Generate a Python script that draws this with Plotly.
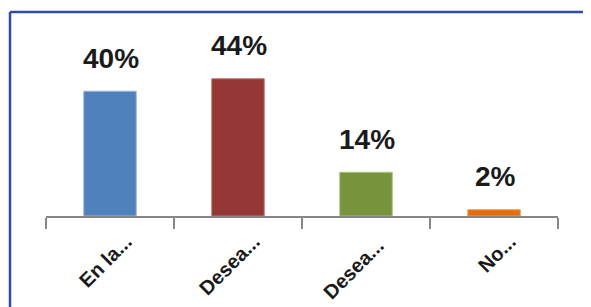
import plotly.graph_objects as go

categories = ["En la...", "Desea...", "Desea... ", "No..."]
values = [40, 44, 14, 2]
labels = ["40%", "44%", "14%", "2%"]
colors = ["#4F81BD", "#953735", "#77933C", "#E46C0A"]
edge_colors = ["#9DB7DC", "#C07674", "#A9C07F", "#F19A52"]

# the page body has an 8px margin: figure pixel = window pixel - OFF
OFF = 8
W, H = 591 - OFF, 307 - OFF
ml, mt = 46 - OFF, 60 - OFF
mr = W - (558 - OFF)
mb = H - (216 - OFF)
pw, ph = W - ml - mr, H - mt - mb

fig = go.Figure()
fig.add_trace(go.Bar(
    x=categories, y=values,
    marker=dict(color=colors, line=dict(color=edge_colors, width=1)),
    width=0.41, hoverinfo="skip",
))
for c, v, t in zip(categories, values, labels):
    fig.add_annotation(x=c, y=v, text=t, showarrow=False, yanchor="middle",
                       yshift=33, xshift=1,
                       font=dict(family="Arial", size=28, color="#1a1a1a", weight="bold"))

def px_x(X):
    return (X - OFF - ml) / pw

def px_y(Y):
    return (H - mb - (Y - OFF)) / ph

border = dict(color="#2E4D9E", width=2.5)
fig.add_shape(type="line", xref="paper", yref="paper",
              x0=px_x(10), x1=px_x(OFF + W), y0=px_y(12), y1=px_y(12), line=border)
fig.add_shape(type="line", xref="paper", yref="paper",
              x0=px_x(10), x1=px_x(10), y0=px_y(12), y1=px_y(OFF + H), line=border)

fig.update_layout(
    width=W, height=H,
    margin=dict(l=ml, r=mr, t=mt, b=mb, pad=0, autoexpand=False),
    paper_bgcolor="white", plot_bgcolor="white",
    showlegend=False,
    xaxis=dict(type="category", showline=True, linecolor="#868686", linewidth=2,
               ticks="outside", tickson="boundaries", ticklen=11, tickwidth=2,
               tickcolor="#868686", tickangle=-45, showgrid=False, automargin=False,
               ticklabelshift=16, ticklabelstandoff=4,
               tickfont=dict(family="Arial", size=20, color="#1a1a1a", weight="bold")),
    yaxis=dict(range=[0, 50], visible=False, showgrid=False, zeroline=False, automargin=False),
)
fig.write_html("out.html", config={"displayModeBar": False})
